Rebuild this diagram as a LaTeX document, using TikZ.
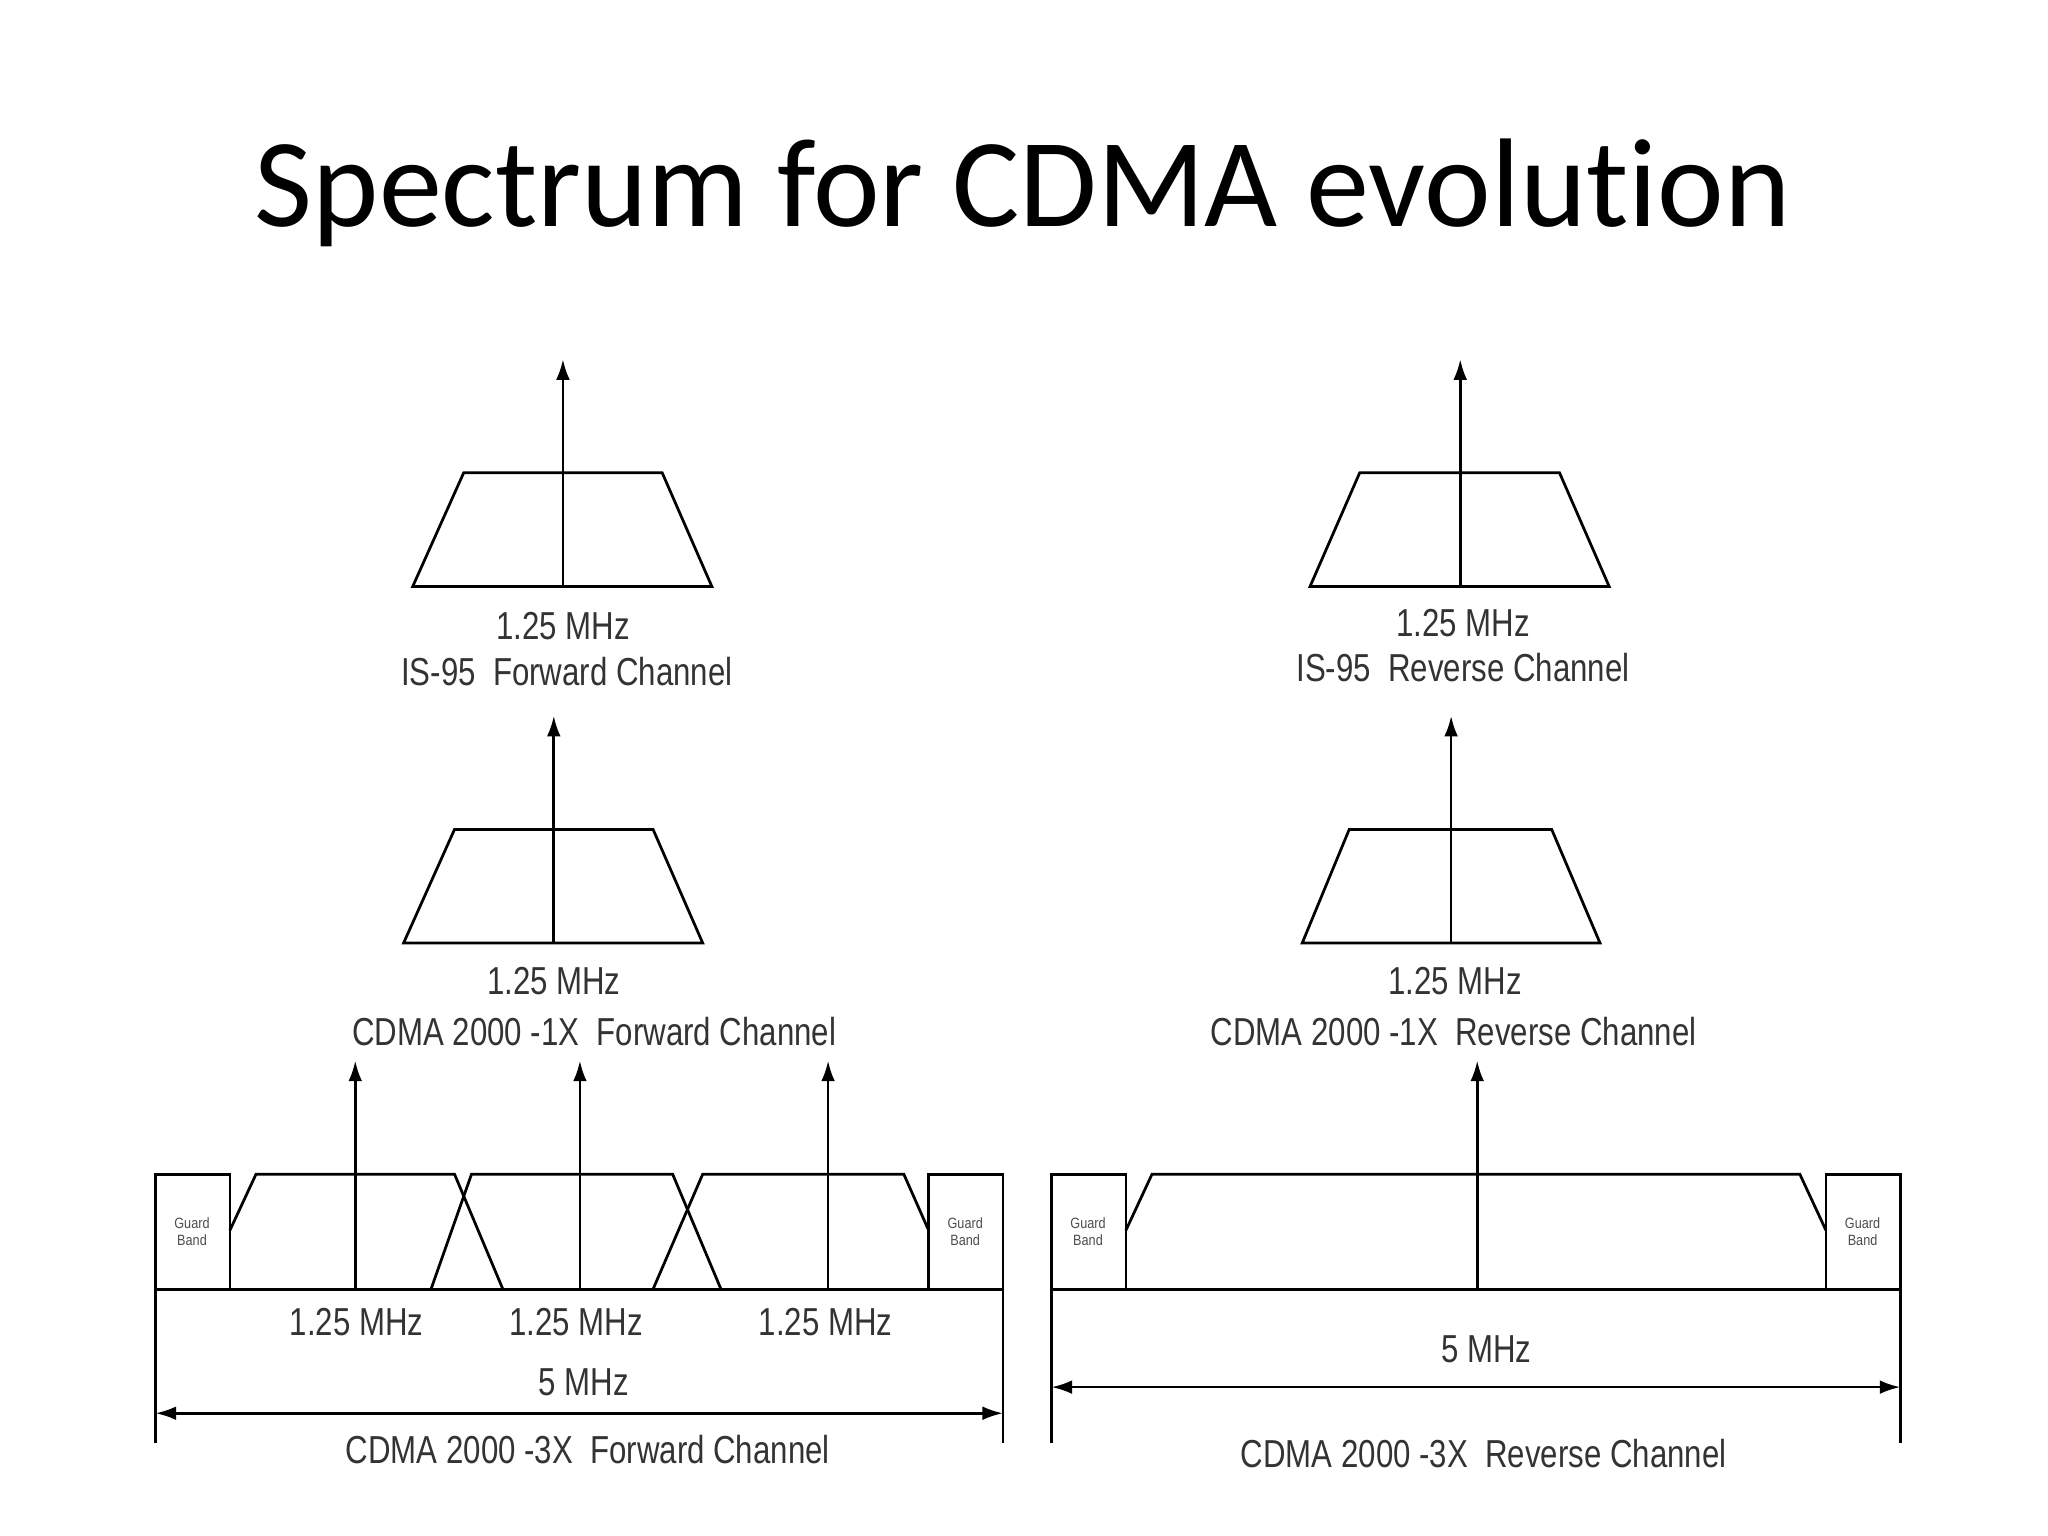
\documentclass[tikz,border=0pt]{standalone}
\usepackage{fontspec}
\setmainfont{Liberation Sans}
\newfontfamily\titlefont{Carlito}[Ligatures=NoCommon]
\usetikzlibrary{arrows.meta}
\begin{document}
\begin{tikzpicture}[x=0.02cm,y=-0.02cm,
  ln/.style={line width=1.2pt,black},
  arr/.style={ln,-{Latex[length=9pt,width=6pt]}},
  darr/.style={ln,{Latex[length=9pt,width=6pt]}-{Latex[length=9pt,width=6pt]}},
  lab/.style={font=\fontsize{17}{19}\selectfont,text=black!80,inner sep=0pt,xscale=0.8},
  gb/.style={font=\fontsize{6.5}{7.5}\selectfont,text=black!70,align=center,inner sep=0pt,xscale=0.85}]
\useasboundingbox (0,0) rectangle (1568,1176);
\node[font=\titlefont\fontsize{55}{62}\selectfont] (title) at (783,148) {Spectrum for CDMA evolution};

% IS-95 forward
\draw[ln] (316,449) -- (355,362) -- (507,362) -- (545,449) -- cycle;
\coordinate (a1b) at (431,449); \coordinate (a1t) at (431,275);
\draw[arr] (a1b) -- (a1t);
\node[lab] (l1) at (431,479) {1.25 MHz};
\node[lab] (l2) at (434,514) {IS-95\ \ Forward Channel};
% 1X forward
\draw[ln] (309,722) -- (348,635) -- (500,635) -- (538,722) -- cycle;
\coordinate (a2b) at (424,722); \coordinate (a2t) at (424,548);
\draw[arr] (a2b) -- (a2t);
\node[lab] (l3) at (424,751) {1.25 MHz};
\node[lab] (l4) at (455,790) {CDMA 2000 -1X\ \ Forward Channel};
% IS-95 reverse
\draw[ln] (1003,449) -- (1041,362) -- (1194,362) -- (1232,449) -- cycle;
\coordinate (a3b) at (1118,449); \coordinate (a3t) at (1118,275);
\draw[arr] (a3b) -- (a3t);
\node[lab] (l5) at (1120,477) {1.25 MHz};
\node[lab] (l6) at (1120,511) {IS-95\ \ Reverse Channel};
% 1X reverse
\draw[ln] (997,722) -- (1033,635) -- (1188,635) -- (1225,722) -- cycle;
\coordinate (a4b) at (1111,722); \coordinate (a4t) at (1111,548);
\draw[arr] (a4b) -- (a4t);
\node[lab] (l7) at (1114,751) {1.25 MHz};
\node[lab] (l8) at (1113,790) {CDMA 2000 -1X\ \ Reverse Channel};

% 3X forward
\draw[ln] (119,987) -- (768,987);
\draw[ln] (119,987) rectangle (176,899);
\draw[ln] (711,987) rectangle (768,899);
\node[gb] (g1) at (147,943) {Guard\\Band};
\node[gb] (g2) at (739,943) {Guard\\Band};
\draw[ln] (176,942) -- (196,899) -- (348,899) -- (385,987);
\draw[ln] (330,987) -- (361,899) -- (515,899) -- (552,987);
\draw[ln] (500,987) -- (538,899) -- (692,899) -- (711,942);
\foreach \x/\n in {272/f1,444/f2,634/f3}{
  \coordinate (\n b) at (\x,987); \coordinate (\n t) at (\x,812);
  \draw[arr] (\n b) -- (\n t);}
\node[lab] (m1) at (273,1012) {1.25 MHz};
\node[lab] (m2) at (441,1012) {1.25 MHz};
\node[lab] (m3) at (632,1012) {1.25 MHz};
\draw[ln] (119,987) -- (119,1105);
\draw[ln] (768,987) -- (768,1105);
\coordinate (dl) at (119,1082); \coordinate (dr) at (768,1082);
\draw[darr] (dl) -- (dr);
\node[lab] (m4) at (447,1058) {5 MHz};
\node[lab] (m5) at (450,1110) {CDMA 2000 -3X\ \ Forward Channel};

% 3X reverse
\draw[ln] (805,987) -- (1455,987);
\draw[ln] (805,987) rectangle (862,899);
\draw[ln] (1398,987) rectangle (1455,899);
\node[gb] (g3) at (833,943) {Guard\\Band};
\node[gb] (g4) at (1426,943) {Guard\\Band};
\draw[ln] (862,942) -- (882,899) -- (1378,899) -- (1398,942);
\coordinate (rb) at (1131,987); \coordinate (rt) at (1131,812);
\draw[arr] (rb) -- (rt);
\draw[ln] (805,987) -- (805,1105);
\draw[ln] (1455,899) -- (1455,1105);
\coordinate (el) at (805,1062); \coordinate (er) at (1455,1062);
\draw[darr] (el) -- (er);
\node[lab] (n1) at (1138,1033) {5 MHz};
\node[lab] (n2) at (1136,1113) {CDMA 2000 -3X\ \ Reverse Channel};
\end{tikzpicture}
\end{document}
